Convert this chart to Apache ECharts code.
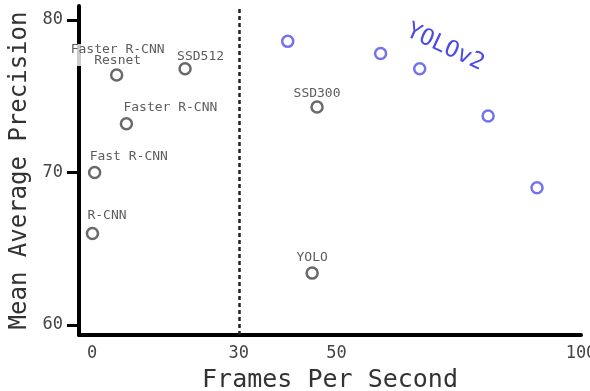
<!DOCTYPE html>
<html>
<head>
<meta charset="utf-8">
<script src="https://cdn.jsdelivr.net/npm/echarts@6/dist/echarts.min.js"></script>
<style>
  html, body { margin: 0; padding: 0; background: #fff; }
  #chart { width: 590px; height: 391px; }
</style>
</head>
<body>
<div id="chart"></div>
<script>
// detectors (FPS, mAP on VOC 2007)
const modelNames = ['R-CNN', 'Fast R-CNN', 'Faster R-CNN', 'Faster R-CNN\nResnet', 'YOLO', 'SSD300', 'SSD512']
const modelFps = [0.05, 0.5, 7, 5, 45, 46, 19]
const modelMap = [66.0, 70.0, 73.2, 76.4, 63.4, 74.3, 76.8]

// YOLOv2 at different input sizes
const yolov2Fps = [40, 59, 67, 81, 91]
const yolov2Map = [78.6, 77.8, 76.8, 73.7, 69.0]
const yolov2TextAt = [72.2, 78.2]

const xTicks = [0, 30, 50, 100]
const yTicks = [60, 70, 80]
const realTimeFps = 30

const mono = 'DejaVu Sans Mono'

// label placement for each detector, same order as modelNames
const labelLayout = [
  { align: 'left', dx: -5, dy: -18 },
  { align: 'left', dx: -5, dy: -16 },
  { align: 'left', dx: -3, dy: -16 },
  { align: 'center', dx: 1, dy: -20 },
  { align: 'center', dx: 0, dy: -15 },
  { align: 'center', dx: 0, dy: -13 },
  { align: 'left', dx: -8, dy: -12 }
]

const chart = echarts.init(document.getElementById('chart'))

const option = {
  animation: false,
  grid: { left: 79, right: 9, top: 6, bottom: 56, outerBoundsMode: 'none' },
  xAxis: {
    type: 'value',
    min: -2.7,
    max: 100,
    name: 'Frames Per Second',
    nameLocation: 'middle',
    nameGap: 33,
    nameTextStyle: { fontFamily: mono, fontSize: 25, color: '#333' },
    splitLine: { show: false },
    axisTick: { show: false },
    axisLine: { show: true, onZero: false, lineStyle: { color: '#000', width: 4 } },
    axisLabel: {
      customValues: xTicks,
      margin: 10,
      fontFamily: mono,
      fontSize: 17,
      color: '#444'
    }
  },
  yAxis: {
    type: 'value',
    min: 59.34,
    max: 80.92,
    name: 'Mean Average Precision',
    nameLocation: 'middle',
    nameGap: 45,
    nameTextStyle: { fontFamily: mono, fontSize: 24, color: '#333' },
    splitLine: { show: false },
    axisLine: { show: true, onZero: false, lineStyle: { color: '#000', width: 4 } },
    axisTick: {
      show: true,
      customValues: yTicks,
      length: 12,
      lineStyle: { color: '#000', width: 3 }
    },
    axisLabel: {
      customValues: yTicks,
      margin: 16,
      fontFamily: mono,
      fontSize: 17,
      color: '#444'
    }
  },
  series: [
    {
      name: 'Others',
      type: 'scatter',
      z: 10,
      symbol: 'circle',
      symbolSize: 11,
      itemStyle: { color: '#fff', borderColor: '#444', borderWidth: 2.5 },
      data: modelNames.map((name, i) => ({
        name: name,
        value: [modelFps[i], modelMap[i]],
        label: {
          show: true,
          position: 'inside',
          align: labelLayout[i].align,
          verticalAlign: 'middle',
          offset: [labelLayout[i].dx, labelLayout[i].dy],
          formatter: '{b}',
          fontFamily: mono,
          fontSize: 13,
          lineHeight: 11,
          color: '#333',
          backgroundColor: i === 3 ? '#fff' : 'transparent'
        }
      })),
      markLine: {
        silent: true,
        symbol: 'none',
        label: { show: false },
        lineStyle: { color: '#222', type: [4, 3], width: 2.5 },
        data: [{ xAxis: realTimeFps }]
      }
    },
    {
      name: 'YOLOv2',
      type: 'scatter',
      symbol: 'circle',
      symbolSize: 11,
      itemStyle: { color: '#fff', borderColor: '#5050e6', borderWidth: 2.5 },
      data: yolov2Fps.map((fps, i) => [fps, yolov2Map[i]]),
      markPoint: {
        symbol: 'circle',
        symbolSize: 1,
        itemStyle: { color: 'transparent' },
        label: {
          show: true,
          position: 'inside',
          formatter: 'YOLOv2',
          rotate: -25,
          fontFamily: mono,
          fontSize: 23,
          color: '#4b4be6'
        },
        data: [{ coord: yolov2TextAt }]
      }
    }
  ]
}

chart.setOption(option)
</script>
</body>
</html>
